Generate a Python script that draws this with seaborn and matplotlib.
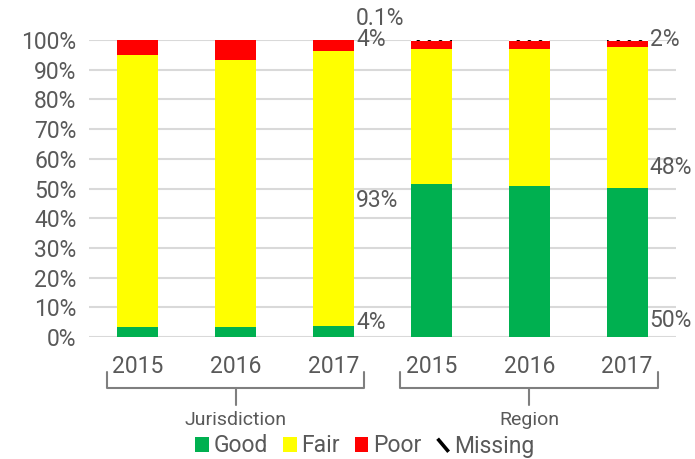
import matplotlib
matplotlib.use("Agg")
import matplotlib.pyplot as plt
import seaborn as sns
import pandas as pd
import numpy as np
from matplotlib.patches import Patch
from matplotlib.lines import Line2D
from matplotlib.legend_handler import HandlerBase

# ---- data ----
groups = ["Jurisdiction", "Jurisdiction", "Jurisdiction", "Region", "Region", "Region"]
years = ["2015", "2016", "2017", "2015", "2016", "2017"]
good = [3.3, 3.3, 3.6, 51.6, 50.9, 50.2]
fair = [91.6, 90.0, 92.7, 45.5, 46.1, 47.3]
poor = [5.0, 6.6, 3.6, 2.4, 2.5, 2.0]
missing = [0.1, 0.1, 0.1, 0.5, 0.5, 0.5]
series = ["Good", "Fair", "Poor", "Missing"]
colors = {"Good": "#00B050", "Fair": "#FFFF00", "Poor": "#FF0000", "Missing": "#FFFFFF"}
yticks = [0, 10, 20, 30, 40, 50, 60, 70, 80, 90, 100]
labels_j = ["0.1%", "4%", "93%", "4%"]
labels_r = ["2%", "48%", "50%"]

sns.set_theme(style="white")
plt.rcParams["font.family"] = ["Roboto", "DejaVu Sans"]
plt.rcParams["hatch.linewidth"] = 1.6
TXT = "#595959"
FS = 16.5

keys = [f"{g} {y}" for g, y in zip(groups, years)]
df = pd.DataFrame({"key": keys, "Good": good, "Fair": fair, "Poor": poor, "Missing": missing})
df["c_good"] = df["Good"] / 100
df["c_fair"] = (df["Good"] + df["Fair"]) / 100
df["c_poor"] = (df["Good"] + df["Fair"] + df["Poor"]) / 100
df["c_miss"] = (df["Good"] + df["Fair"] + df["Poor"] + df["Missing"]) / 100

fig = plt.figure(figsize=(6.95, 4.59), dpi=100)
ax = fig.add_axes([89 / 695, 1 - 337 / 459, (676 - 89) / 695, (337 - 40) / 459])
ax.set_axisbelow(True)

W = 0.42
sns.barplot(data=df, x="key", y="c_miss", order=keys, color="white", width=W,
            edgecolor="black", linewidth=0, hatch="\\\\\\", ax=ax, errorbar=None)
sns.barplot(data=df, x="key", y="c_poor", order=keys, color=colors["Poor"], width=W,
            linewidth=0, saturation=1, ax=ax, errorbar=None)
sns.barplot(data=df, x="key", y="c_fair", order=keys, color=colors["Fair"], width=W,
            linewidth=0, saturation=1, ax=ax, errorbar=None)
sns.barplot(data=df, x="key", y="c_good", order=keys, color=colors["Good"], width=W,
            linewidth=0, saturation=1, ax=ax, errorbar=None)

ax.set_xlim(-0.5, 5.5)
ax.set_ylim(0, 1)
ax.set_yticks([v / 100 for v in yticks])
ax.set_yticklabels([f"{v}%" for v in yticks], fontsize=FS, color=TXT)
ax.set_xticks(range(6))
ax.set_xticklabels(years, fontsize=FS, color=TXT)
ax.tick_params(axis="x", length=0, pad=13)
ax.tick_params(axis="y", length=0, pad=9)
ax.yaxis.grid(True, color="#D9D9D9", linewidth=1.5)
ax.set_xlabel("")
ax.set_ylabel("")
for s in ax.spines.values():
    s.set_visible(False)

# brackets for the grouped axis
trans = ax.get_xaxis_transform()
y_top, y_mid, y_bot = -0.118, -0.172, -0.229
for (x0, x1, xc, name) in [(-0.316, 2.306, 1.0, "Jurisdiction"), (2.68, 5.316, 4.0, "Region")]:
    ax.plot([x0, x0, x1, x1], [y_top, y_mid, y_mid, y_top], transform=trans,
            color="#7F7F7F", lw=1.5, clip_on=False, solid_joinstyle="round")
    ax.plot([xc, xc], [y_mid, y_bot], transform=trans, color="#7F7F7F", lw=1.5, clip_on=False)
    ax.text(xc, -0.28, name, transform=trans, ha="center", va="center",
            fontsize=14, color=TXT)

# value annotations
xj = 2 + W / 2 + 0.02
for txt, yv in zip(labels_j, [1.074, 1.0, 0.461, 0.05]):
    ax.text(xj, yv, txt, ha="left", va="center", fontsize=FS, color=TXT, clip_on=False)
xr = 5 + W / 2 + 0.02
for txt, yv in zip(labels_r, [1.0, 0.572, 0.054]):
    ax.text(xr, yv, txt, ha="left", va="center", fontsize=FS, color=TXT, clip_on=False)


class DiagHandler(HandlerBase):
    def create_artists(self, legend, orig_handle, xdescent, ydescent, width, height,
                       fontsize, trans):
        ln = Line2D([xdescent * 0 + 0.1 * width, 0.9 * width],
                    [0.95 * height, 0.05 * height], color="black", lw=2.6,
                    solid_capstyle="butt", transform=trans)
        return [ln]


miss_handle = Line2D([], [], color="black")
handles = [Patch(facecolor=colors["Good"], edgecolor="none"),
           Patch(facecolor=colors["Fair"], edgecolor="none"),
           Patch(facecolor=colors["Poor"], edgecolor="none"),
           miss_handle]
leg = fig.legend(handles, series, loc="center", bbox_to_anchor=(365 / 695, 1 - 446 / 459),
                 ncol=4, frameon=False, fontsize=FS, handlelength=0.6, handleheight=0.6,
                 handletextpad=0.2, columnspacing=0.65, borderaxespad=0, borderpad=0,
                 handler_map={miss_handle: DiagHandler()})
for t in leg.get_texts():
    t.set_color(TXT)

fig.savefig("out.png", dpi=100)
